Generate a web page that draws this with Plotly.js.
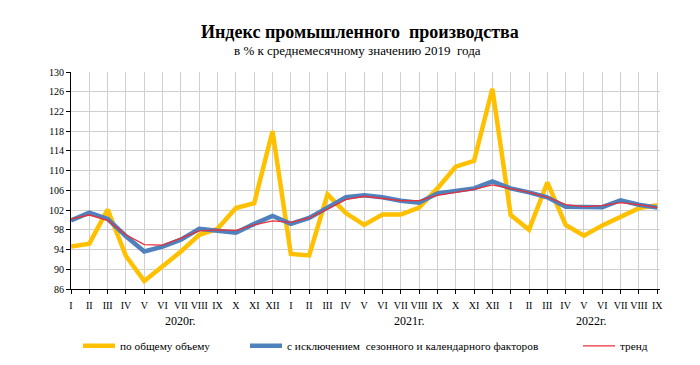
<!DOCTYPE html>
<html>
<head>
<meta charset="utf-8">
<script src="https://cdn.plot.ly/plotly-3.0.1.min.js"></script>
<style>html,body{margin:0;padding:0;background:#fff}#chart{width:700px;height:365px}</style>
</head>
<body>
<div id="chart"></div>
<script>
var monthLabels = ["I","II","III","IV","V","VI","VII","VIII","IX","X","XI","XII",
                   "I","II","III","IV","V","VI","VII","VIII","IX","X","XI","XII",
                   "I","II","III","IV","V","VI","VII","VIII","IX"];
var yearLabels = ["2020г.","2021г.","2022г."];
var yearCenters = [6, 18.5, 28.4];

var totalVolume = [94.6, 95.2, 102.1, 92.7, 87.6, 90.6, 93.6, 97.0, 98.2, 102.4, 103.4, 118.0,
                   93.1, 92.8, 105.2, 101.4, 99.0, 101.1, 101.1, 102.5, 106.4, 110.8, 112.0, 126.6,
                   101.0, 98.0, 107.6, 99.0, 96.8, 98.9, 100.7, 102.4, 103.0];
var seasonAdj = [99.9, 101.5, 100.2, 96.7, 93.6, 94.6, 96.0, 98.2, 97.8, 97.4, 99.2, 100.8,
                 99.2, 100.4, 102.5, 104.6, 105.0, 104.6, 103.9, 103.5, 105.4, 105.8, 106.4, 107.8,
                 106.4, 105.6, 104.6, 102.7, 102.6, 102.6, 104.0, 103.1, 102.5];
var trend = [100.2, 101.0, 99.9, 97.0, 95.0, 94.9, 96.3, 97.8, 98.0, 97.9, 99.0, 99.8,
             99.5, 100.4, 102.2, 104.1, 104.8, 104.4, 103.9, 103.9, 105.0, 105.6, 106.2, 107.1,
             106.4, 105.6, 104.6, 103.1, 102.7, 102.9, 103.5, 103.1, 102.5];
var seriesNames = ["по общему объему", "с исключением  сезонного и календарного факторов", "тренд"];

var xs = monthLabels.map(function(_, i){ return i; });
var font = "Liberation Serif, Times New Roman, serif";

var traces = [
  {x: xs, y: totalVolume, name: seriesNames[0], type: "scatter", mode: "lines", legend: "legend",
   line: {color: "#FFC000", width: 4.5}},
  {x: xs, y: seasonAdj, name: seriesNames[1], type: "scatter", mode: "lines", legend: "legend2",
   line: {color: "#4F81BD", width: 4.5}},
  {x: xs, y: trend, name: seriesNames[2], type: "scatter", mode: "lines", legend: "legend3",
   line: {color: "#E8303A", width: 1.3}}
];

var annotations = [
  {text: "<b>Индекс промышленного  производства</b>", xref: "paper", yref: "paper",
   x: 0.5, y: 1, yanchor: "middle", yshift: 40, xshift: -6, showarrow: false,
   font: {family: font, size: 18, color: "#000"}},
  {text: "в % к среднемесячному значению 2019  года", xref: "paper", yref: "paper",
   x: 0.5, y: 1, yanchor: "middle", yshift: 22, xshift: -8, showarrow: false,
   font: {family: font, size: 13, color: "#000"}}
];
yearLabels.forEach(function(t, i){
  annotations.push({text: t, xref: "x", yref: "paper", x: yearCenters[i], y: 0,
    yanchor: "middle", yshift: -32, showarrow: false,
    font: {family: font, size: 12, color: "#000"}});
});

function legendAt(px) {
  return {orientation: "h", x: (px - 71) / 589, xanchor: "left", y: -0.195, yanchor: "top",
          font: {family: font, size: 11.3, color: "#000"}, itemwidth: 32, bgcolor: "rgba(0,0,0,0)"};
}

var layout = {
  width: 700, height: 365,
  margin: {l: 71, r: 40, t: 72, b: 76, autoexpand: false},
  paper_bgcolor: "#fff", plot_bgcolor: "#fff",
  font: {family: font, color: "#000"},
  showlegend: true,
  legend: legendAt(78),
  legend2: legendAt(245),
  legend3: legendAt(578),
  xaxis: {range: [0, 32.15], tickvals: xs, ticktext: monthLabels, tickangle: 0,
          showgrid: true, gridcolor: "#cfcfcf", gridwidth: 1,
          showline: true, linecolor: "#000", linewidth: 1,
          ticks: "outside", ticklen: 4, tickcolor: "#000", ticklabelstandoff: 3,
          tickfont: {family: font, size: 10, color: "#000"}, zeroline: false, fixedrange: true},
  yaxis: {range: [86, 130], dtick: 4, tick0: 86,
          showgrid: true, gridcolor: "#cfcfcf", gridwidth: 1,
          showline: true, linecolor: "#000", linewidth: 1,
          ticks: "outside", ticklen: 4, tickcolor: "#000",
          tickfont: {family: font, size: 10, color: "#000"}, zeroline: false, fixedrange: true},
  annotations: annotations
};

Plotly.newPlot("chart", traces, layout, {displayModeBar: false, staticPlot: true});
</script>
</body>
</html>
